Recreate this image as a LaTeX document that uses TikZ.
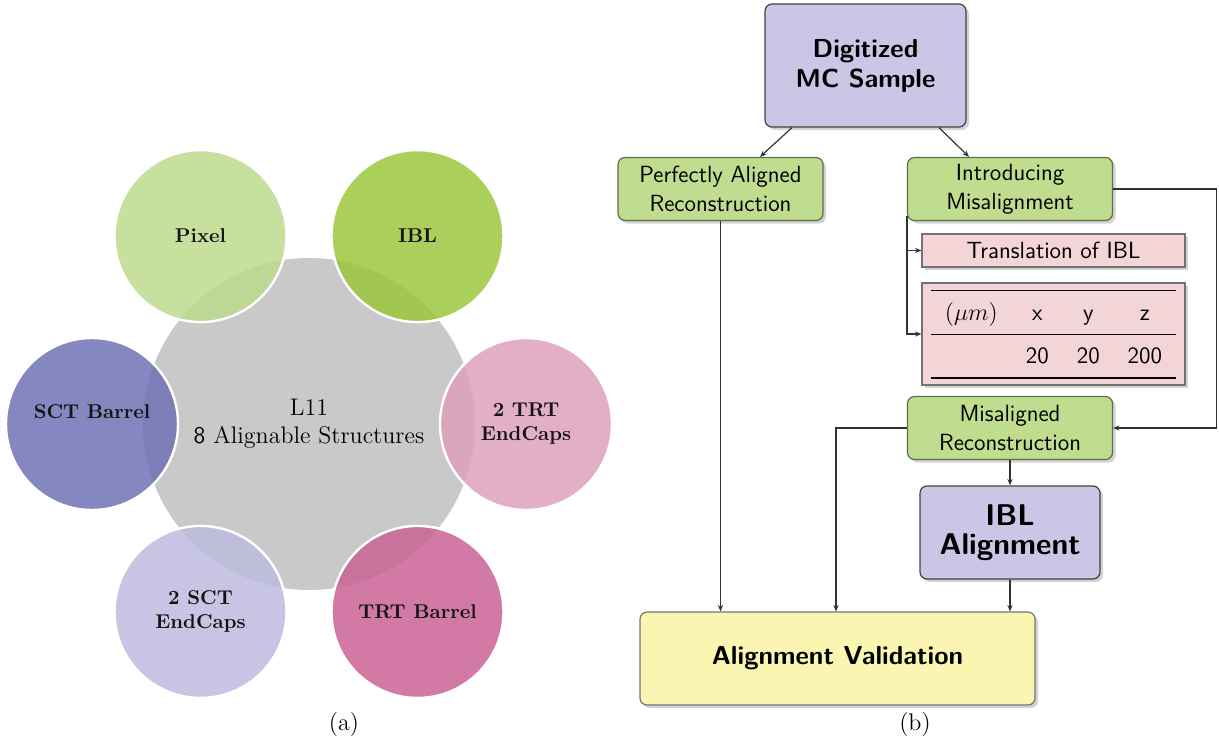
\documentclass[tikz,border=0pt]{standalone}
\usepackage{xcolor}
\usepackage{booktabs}
\usepackage{tikz}
\usetikzlibrary{arrows.meta,shadows}
\definecolor{cPix}{HTML}{BDDA8D}
\definecolor{cIbl}{HTML}{9BC73D}
\definecolor{cSctB}{HTML}{6F72B5}
\definecolor{cTrtEc}{HTML}{DDA1BD}
\definecolor{cSctEc}{HTML}{BDBBDE}
\definecolor{cTrtB}{HTML}{CA6395}
\definecolor{coreg}{HTML}{C9C9C9}
\definecolor{boxLav}{HTML}{C9C7E5}
\definecolor{boxGrn}{HTML}{C0DC8F}
\definecolor{edgeGrn}{HTML}{56704A}
\definecolor{boxPnk}{HTML}{F4D5D7}
\definecolor{boxYel}{HTML}{FAF5B1}
\definecolor{wire}{HTML}{333333}

\begin{document}
\begin{tikzpicture}[x=0.5pt,y=-0.5pt,
  blob/.style={circle,inner sep=0pt,minimum size=86pt,draw=white,line width=1.2pt,
    fill opacity=0.85,text opacity=1,align=center,font=\bfseries,text=black!92},
  fbox/.style={rectangle,rounded corners=3.5pt,draw=black!75,line width=0.6pt,align=center,
    inner sep=2pt,drop shadow={shadow xshift=1.5pt,shadow yshift=-1.5pt,opacity=0.35},
    font=\sffamily\fontsize{11.7}{14.5}\selectfont},
  bigbox/.style={fbox,fill=boxLav,font=\sffamily\bfseries\fontsize{13}{15}\selectfont},
  grnbox/.style={fbox,fill=boxGrn,draw=edgeGrn,minimum width=102.5pt,minimum height=31.5pt},
  pnkbox/.style={fbox,sharp corners,fill=boxPnk,draw=black!55,minimum width=131.5pt},
  arr/.style={draw=wire,line width=0.6pt,-{Stealth[length=3.2pt,width=2.6pt]}}]
  \useasboundingbox (0,0) rectangle (1219,745);
  % (a) alignable structures around the core
  \node[circle,fill=coreg,inner sep=0pt,minimum size=166pt,align=center,font=\large] (core)
    at (309,424) {L11\\\textsf{8} Alignable Structures};
  \foreach \n/\a/\c/\t in {pix/240/cPix/Pixel, ibl/300/cIbl/IBL, trtec/0/cTrtEc/{2 TRT\\EndCaps},
      trtb/60/cTrtB/TRT Barrel, sctec/120/cSctEc/{2 SCT\\EndCaps}, sctb/180/cSctB/{SCT Barrel\\~}}
    \node[blob,fill=\c] (\n) at ([shift={(\a:217)}]core) {\t};
  \node[font=\fontsize{12}{14}\selectfont] (capA) at (344,724) {(a)};
  % (b) validation chain
  \node[bigbox,minimum width=100.5pt,minimum height=61.5pt] (dig) at (865.5,65.5) {Digitized\\MC Sample};
  \node[grnbox] (perf) at (720.5,189) {Perfectly Aligned\\Reconstruction};
  \node[grnbox] (intro) at (1010,189) {Introducing\\Misalignment};
  \node[pnkbox,minimum height=16.5pt] (trans) at (1053.5,250.5) {Translation of IBL};
  \node[pnkbox,minimum height=51pt] (tab) at (1053.5,334) {%
    \setlength{\tabcolsep}{7pt}\renewcommand{\arraystretch}{1.15}%
    \begin{tabular}{cccc}
      \toprule
      $(\mu m)$ & x & y & z\\
      \midrule
       & 20 & 20 & 200\\
      \bottomrule
    \end{tabular}};
  \node[grnbox] (mis) at (1010,428) {Misaligned\\Reconstruction};
  \node[bigbox,font=\sffamily\bfseries\fontsize{15}{14.5}\selectfont,minimum width=90pt,
    minimum height=46.5pt] (ibla) at (1010,532.5) {IBL\\Alignment};
  \node[fbox,fill=boxYel,draw=black!55,font=\sffamily\bfseries\fontsize{13}{15}\selectfont,
    minimum width=197.5pt,minimum height=46.5pt] (val) at (837.5,658.5) {Alignment Validation};
  \node[font=\fontsize{12}{14}\selectfont] (capB) at (915,724) {(b)};
  \draw[arr] ([xshift=-36.75pt]dig.south) -- ([xshift=19.75pt]perf.north);
  \draw[arr] ([xshift=36.75pt]dig.south) -- ([xshift=-20.5pt]intro.north);
  \draw[arr] (perf.south) -- (perf.south |- val.north);
  \draw[arr] (intro.east) -- ++(103,0) |- (mis.east);
  \draw[arr] ([yshift=2.5pt]intro.south west) |- (trans.west);
  \draw[arr] ([yshift=2.5pt]intro.south west) |- (tab.west);
  \draw[arr] (mis.west) -| ([xshift=-0.75pt]val.north);
  \draw[arr] (mis.south) -- (ibla.north);
  \draw[arr] (ibla.south) -- (ibla.south |- val.north);
\end{tikzpicture}
\end{document}
